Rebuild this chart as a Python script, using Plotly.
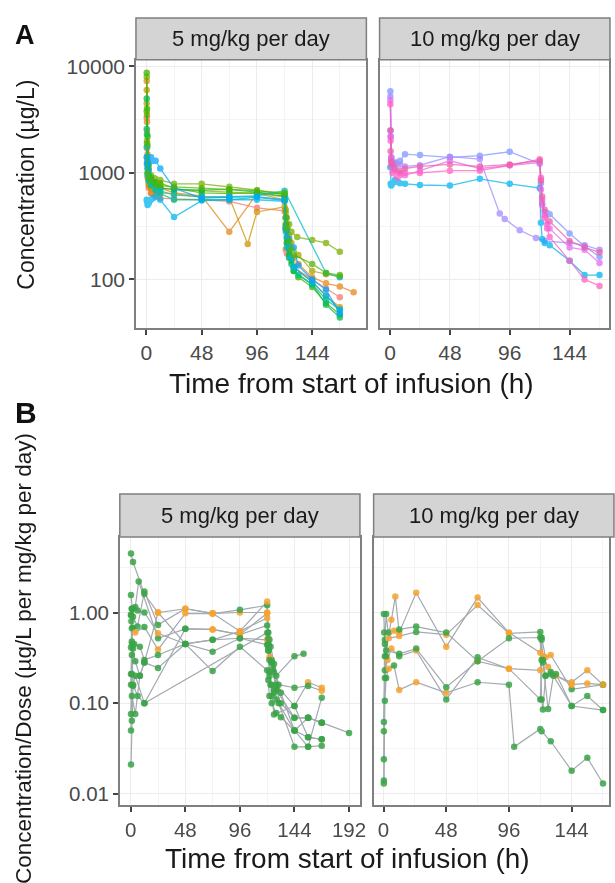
import plotly.graph_objects as go

W, H = 615, 883

# ---------------- Panel A: concentration (µg/L), 5 mg/kg per day ----------------
a5_t1 = [0.25, 0.5, 1, 2, 4, 8, 12, 24, 48, 72, 96, 120, 121, 122, 124, 128, 144, 156, 168]
a5_v1 = [3300, 1700, 900, 720, 640, 600, 580, 570, 560, 540, 470, 440, 190, 175, 160, 130, 100, 82, 68]
a5_t2 = [0.25, 0.5, 1, 2, 4, 6, 8, 12, 24, 48, 72, 96, 120, 121, 122, 124, 128, 132, 144, 156, 168, 180]
a5_v2 = [7300, 3000, 1500, 760, 650, 640, 660, 720, 650, 610, 280, 640, 560, 320, 250, 200, 160, 140, 105, 92, 86, 76]
a5_t3 = [0.25, 0.5, 1, 2, 4, 8, 12, 24, 48, 72, 88, 96, 120, 121, 122, 124, 128, 144, 156, 168]
a5_v3 = [6000, 2500, 1300, 800, 720, 680, 650, 640, 590, 590, 215, 430, 480, 300, 220, 170, 130, 95, 70, 55]
a5_t4 = [0.25, 0.5, 1, 2, 4, 8, 12, 24, 48, 72, 96, 120, 121, 122, 124, 126, 132, 144, 156, 168]
a5_v4 = [4500, 2000, 1100, 850, 800, 760, 720, 700, 680, 660, 640, 600, 420, 330, 260, 220, 170, 120, 112, 106]
a5_t5 = [0.25, 0.5, 1, 2, 4, 6, 8, 12, 24, 48, 72, 96, 120, 121, 122, 124, 126, 131, 144, 156, 168]
a5_v5 = [8000, 3500, 1800, 1100, 950, 900, 880, 860, 790, 790, 740, 690, 620, 450, 380, 330, 280, 250, 235, 220, 182]
a5_t6 = [0.25, 0.5, 1, 2, 4, 8, 12, 24, 48, 72, 96, 120, 121, 122, 124, 126, 128, 132, 144, 156, 168]
a5_v6 = [8700, 4000, 2200, 1200, 900, 820, 800, 720, 650, 640, 650, 640, 330, 240, 190, 150, 120, 105, 85, 60, 47]
a5_t7 = [0.25, 0.5, 1, 2, 4, 6, 8, 12, 24, 48, 72, 96, 120, 121, 122, 124, 126, 128, 144, 156, 168]
a5_v7 = [5000, 2300, 1200, 950, 850, 800, 750, 720, 700, 690, 700, 660, 600, 300, 220, 170, 140, 120, 90, 58, 44]
a5_t8 = [0.25, 0.5, 1, 2, 4, 8, 12, 24, 48, 72, 96, 120, 121, 122, 124, 128, 132, 144, 156, 168]
a5_v8 = [2600, 1400, 1000, 850, 760, 690, 640, 560, 560, 560, 590, 550, 280, 200, 160, 130, 110, 90, 65, 52]
a5_t9 = [0.25, 0.5, 1, 2, 4, 8, 12, 24, 48, 72, 96, 120, 156, 168]
a5_v9 = [1750, 1200, 950, 850, 800, 720, 680, 620, 600, 600, 610, 680, 115, 105]
a5_t10 = [0.25, 0.5, 1, 2, 4, 6, 8, 12, 24, 48, 72, 96, 120, 121, 122, 124, 126, 128, 144, 156, 168]
a5_v10 = [560, 540, 500, 520, 560, 580, 600, 560, 385, 550, 560, 560, 540, 300, 250, 200, 160, 130, 95, 70, 52]
a5_t11 = [0.25, 0.5, 1, 2, 4, 6, 8, 12, 24, 48, 72, 96, 120, 121, 122, 124, 128, 132, 144, 156, 168]
a5_v11 = [1400, 1250, 1100, 1050, 1400, 1300, 1300, 1100, 720, 580, 590, 600, 560, 380, 290, 240, 200, 135, 100, 80, 48]
a5_t12 = [0.25, 0.5, 1, 2, 4, 8, 12, 24, 48, 72, 96, 120, 121, 122, 124, 126, 128, 144, 156, 168]
a5_v12 = [3800, 1900, 1000, 900, 850, 780, 760, 740, 720, 700, 680, 650, 380, 300, 230, 190, 170, 140, 115, 110]
a5_colors = ["#F8766D", "#E7861B", "#CE9500", "#A8A400", "#7CAE00", "#39B600",
             "#00BB4E", "#00C08B", "#00BFC4", "#00B4EF", "#00A5FF", "#53B400"]

# ---------------- Panel A: 10 mg/kg per day ----------------
a10_t1 = [0.25, 0.5, 1, 2, 4, 6, 8, 12, 24, 48, 72, 96, 120, 121, 122, 124, 126, 128, 144, 156, 168]
a10_v1 = [5850, 2500, 1400, 1250, 1200, 1250, 1300, 1500, 1470, 1400, 1450, 1580, 1220, 800, 520, 430, 420, 410, 270, 205, 163]
a10_t2 = [0.25, 0.5, 1, 2, 4, 8, 12, 24, 48, 72, 88, 92, 104, 117, 124, 144, 156, 168]
a10_v2 = [5200, 2200, 1300, 1200, 1250, 1200, 1150, 1180, 1420, 1350, 415, 370, 290, 245, 230, 220, 210, 190]
a10_t3 = [0.25, 0.5, 1, 2, 4, 6, 8, 12, 24, 48, 72, 96, 120, 121, 122, 124, 128, 144, 156, 168]
a10_v3 = [1130, 790, 760, 800, 860, 820, 800, 790, 770, 760, 880, 790, 720, 340, 240, 220, 210, 150, 110, 110]
a10_t4 = [0.25, 0.5, 1, 2, 4, 8, 12, 24, 48, 72, 96, 120, 121, 122, 124, 126, 128, 144, 156, 168]
a10_v4 = [4800, 2200, 1400, 1100, 1050, 1000, 950, 1050, 1300, 1100, 1180, 1250, 700, 500, 400, 330, 300, 200, 190, 143]
a10_t5 = [0.25, 0.5, 1, 2, 4, 6, 8, 12, 24, 48, 72, 96, 120, 121, 122, 124, 126, 128, 144, 156, 168]
a10_v5 = [4400, 2000, 1200, 1000, 980, 900, 950, 1000, 1000, 1050, 1050, 1180, 1340, 900, 560, 380, 300, 250, 150, 100, 87]
a10_t6 = [0.25, 0.5, 1, 2, 4, 8, 12, 24, 48, 72, 96, 120, 121, 122, 124, 128, 144, 156, 168]
a10_v6 = [2500, 1600, 1300, 1200, 1100, 1050, 1100, 1150, 1200, 1150, 1200, 1300, 850, 600, 450, 350, 230, 200, 180]
a10_colors = ["#7F96FF", "#A58AFF", "#00B4F0", "#E76BF3", "#FF61C3", "#EC5FA8"]

# ---------------- Panel B: concentration/dose, 5 mg/kg per day (0 = green, 1 = orange) ----------------
b5_t1 = [0.25, 2, 12, 24, 48, 72, 96, 120, 121, 124, 128, 144, 156, 168]
b5_v1 = [4.46, 3.6, 1.6, 1.0, 1.1, 0.98, 1.0, 1.0, 0.44, 0.3, 0.16, 0.093, 0.17, 0.148]
b5_c1 = [0, 0, 0, 1, 1, 1, 1, 1, 0, 0, 0, 0, 1, 1]
b5_t2 = [0.25, 1, 4, 7, 24, 48, 72, 96, 120, 121, 122, 126, 132, 144, 156, 168]
b5_v2 = [0.94, 1.1, 1.15, 2.2, 0.52, 0.66, 0.65, 0.57, 0.98, 0.5, 0.32, 0.22, 0.13, 0.05, 0.042, 0.04]
b5_c2 = [0, 0, 0, 0, 0, 0, 1, 1, 1, 1, 1, 0, 0, 0, 0, 0]
b5_t3 = [0.25, 1, 2, 6, 12, 24, 48, 72, 96, 120, 121, 124, 128, 144, 156, 168]
b5_v3 = [0.41, 0.67, 1.1, 1.05, 1.0, 0.59, 0.45, 0.5, 0.62, 0.87, 0.38, 0.28, 0.14, 0.069, 0.069, 0.061]
b5_c3 = [0, 0, 0, 0, 0, 1, 0, 0, 1, 1, 0, 0, 0, 0, 0, 0]
b5_t4 = [0.25, 1, 2, 4, 12, 24, 48, 72, 96, 120, 121, 123, 126, 130, 144, 156, 168]
b5_v4 = [0.16, 0.48, 0.68, 0.6, 0.69, 0.39, 0.98, 0.97, 1.07, 1.2, 0.6, 0.42, 0.27, 0.16, 0.148, 0.155, 0.137]
b5_c4 = [0, 0, 0, 1, 0, 1, 1, 1, 0, 0, 0, 0, 0, 0, 0, 0, 1]
b5_t5 = [0.25, 1, 3, 8, 12, 24, 48, 72, 96, 120, 121, 122, 125, 128, 144, 152]
b5_v5 = [0.076, 0.21, 0.45, 0.42, 0.3, 0.34, 0.45, 0.37, 0.52, 0.5, 0.44, 0.3, 0.24, 0.2, 0.33, 0.35]
b5_c5 = [0, 0, 0, 0, 0, 0, 0, 0, 0, 1, 0, 0, 0, 0, 0, 0]
b5_t6 = [0.25, 1, 2, 4, 8, 12, 24, 48, 72, 96, 120, 121, 122, 124, 128, 132, 144, 156, 168]
b5_v6 = [0.05, 0.34, 0.4, 0.29, 0.2, 0.28, 0.245, 0.45, 0.226, 0.42, 0.23, 0.18, 0.12, 0.1, 0.078, 0.07, 0.05, 0.033, 0.034]
b5_c6 = [0] * 19
b5_t7 = [0.25, 1, 2, 4, 12, 48, 72, 96, 120, 121, 123, 126, 130, 144, 156, 168]
b5_v7 = [0.021, 0.064, 0.155, 0.2, 0.1, 0.66, 0.65, 0.57, 0.72, 0.42, 0.16, 0.14, 0.1, 0.033, 0.033, 0.115]
b5_c7 = [0, 0, 0, 0, 0, 0, 1, 1, 0, 0, 0, 0, 0, 0, 0, 0]
b5_t8 = [0.25, 1, 2, 6, 12, 24, 48, 72, 96, 120, 121, 122, 124, 128, 132, 144, 156, 168, 192]
b5_v8 = [1.56, 1.1, 0.9, 0.7, 1.7, 0.73, 1.1, 0.98, 0.62, 1.32, 0.52, 0.5, 0.28, 0.14, 0.1, 0.069, 0.069, 0.061, 0.047]
b5_c8 = [0, 0, 0, 0, 0, 0, 1, 1, 1, 1, 0, 0, 0, 0, 0, 0, 0, 0, 0]
b5_t9 = [0.25, 1, 4, 8, 12, 24, 48, 72, 96, 120, 121, 122, 124, 126, 144, 156, 168]
b5_v9 = [0.21, 0.12, 0.076, 0.2, 0.28, 1.0, 0.45, 0.5, 0.52, 0.44, 0.38, 0.22, 0.12, 0.075, 0.093, 0.042, 0.04]
b5_c9 = [0, 0, 0, 0, 0, 1, 0, 0, 0, 0, 0, 0, 0, 0, 0, 0, 0]
b5_t10 = [0.25, 0.5, 1, 2, 6, 12, 120, 121, 122, 124, 126, 128, 144, 156, 168]
b5_v10 = [0.94, 0.8, 0.45, 0.16, 0.12, 0.1, 0.6, 0.44, 0.2, 0.16, 0.13, 0.11, 0.05, 0.069, 0.061]
b5_c10 = [0] * 15

# ---------------- Panel B: 10 mg/kg per day ----------------
b10_t1 = [0.25, 1, 6, 9, 12, 25, 48, 72, 96, 120, 122, 126, 132, 144, 156, 168]
b10_v1 = [0.014, 0.33, 0.83, 1.5, 0.6, 1.65, 0.42, 1.46, 0.6, 0.36, 0.33, 0.25, 0.2, 0.17, 0.23, 0.16]
b10_c1 = [0, 0, 1, 1, 1, 1, 1, 1, 1, 1, 1, 1, 1, 1, 1, 0]
b10_t2 = [0.25, 1, 2, 4, 12, 25, 48, 72, 96, 120, 121, 124, 128, 144, 168]
b10_v2 = [0.049, 0.5, 0.96, 0.52, 0.55, 0.61, 0.57, 1.21, 0.59, 0.61, 0.53, 0.32, 0.34, 0.142, 0.16]
b10_c2 = [0, 0, 0, 1, 1, 0, 1, 1, 1, 0, 0, 1, 1, 0, 0]
b10_t3 = [0.25, 1, 3, 6, 12, 25, 48, 72, 96, 120, 121, 122, 126, 130, 144, 156, 168]
b10_v3 = [0.062, 0.23, 0.3, 0.4, 0.33, 0.38, 0.11, 0.32, 0.24, 0.11, 0.3, 0.28, 0.086, 0.2, 0.093, 0.12, 0.084]
b10_c3 = [0, 0, 1, 1, 0, 1, 0, 0, 1, 0, 0, 0, 0, 0, 0, 0, 0]
b10_t4 = [0.25, 1, 2, 4, 8, 12, 25, 48, 72, 96, 100, 120, 121, 128, 144, 156, 168]
b10_v4 = [0.013, 0.106, 0.19, 0.24, 0.26, 0.14, 0.17, 0.13, 0.17, 0.16, 0.033, 0.052, 0.049, 0.038, 0.018, 0.025, 0.013]
b10_c4 = [0, 0, 0, 1, 0, 1, 1, 1, 0, 0, 0, 0, 0, 0, 0, 0, 0]
b10_t5 = [0.25, 1, 2, 4, 8, 12, 25, 48, 72, 96, 120, 121, 122, 124, 128, 144, 156, 168]
b10_v5 = [0.024, 0.19, 0.33, 0.6, 0.63, 0.65, 0.7, 0.6, 0.29, 0.24, 0.23, 0.5, 0.3, 0.2, 0.22, 0.16, 0.165, 0.16]
b10_c5 = [0, 0, 0, 0, 1, 0, 0, 0, 1, 1, 1, 0, 0, 0, 0, 1, 1, 1]
b10_t6 = [0.25, 0.5, 1, 2, 12, 25, 48, 72, 96, 120, 121, 122, 124, 128, 132, 144, 168]
b10_v6 = [0.96, 0.6, 0.45, 0.38, 0.35, 0.4, 0.15, 0.29, 0.52, 0.53, 0.11, 0.085, 0.2, 0.21, 0.21, 0.093, 0.084]
b10_c6 = [0] * 17

strip_labels = ["5 mg/kg per day", "10 mg/kg per day"]
x_title = "Time from start of infusion (h)"
ya_title = "Concentration (µg/L)"
yb_title = "Concentration/Dose (µg/L per mg/kg per day)"
xticks_a = [0, 48, 96, 144]
xticks_b = [0, 48, 96, 144, 192]
yticks_a = [100, 1000, 10000]
yticks_a_text = ["100", "1000", "10000"]
yticks_b = [0.01, 0.1, 1]
yticks_b_text = ["0.01", "0.10", "1.00"]

GREEN = "#3AA447"
ORANGE = "#F6A331"
LINEGREY = "#A3AAB1"
FONT = "Liberation Sans, Arial, sans-serif"


def px(x):
    return x / W


def py(y):
    return 1 - y / H


fig = go.Figure()

a_left = [(a5_t1, a5_v1), (a5_t2, a5_v2), (a5_t3, a5_v3), (a5_t4, a5_v4), (a5_t5, a5_v5),
          (a5_t6, a5_v6), (a5_t7, a5_v7), (a5_t8, a5_v8), (a5_t9, a5_v9), (a5_t10, a5_v10),
          (a5_t11, a5_v11), (a5_t12, a5_v12)]
a_right = [(a10_t1, a10_v1), (a10_t2, a10_v2), (a10_t3, a10_v3), (a10_t4, a10_v4),
           (a10_t5, a10_v5), (a10_t6, a10_v6)]

for (t, v), col in zip(a_left, a5_colors):
    fig.add_trace(go.Scatter(x=t, y=v, mode="lines+markers", xaxis="x", yaxis="y",
                             line=dict(color=col, width=1.3), marker=dict(color=col, size=6.5),
                             opacity=0.75, showlegend=False, hoverinfo="skip"))
for (t, v), col in zip(a_right, a10_colors):
    fig.add_trace(go.Scatter(x=t, y=v, mode="lines+markers", xaxis="x2", yaxis="y2",
                             line=dict(color=col, width=1.3), marker=dict(color=col, size=6.5),
                             opacity=0.75, showlegend=False, hoverinfo="skip"))

b_left = [(b5_t1, b5_v1, b5_c1), (b5_t2, b5_v2, b5_c2), (b5_t3, b5_v3, b5_c3), (b5_t4, b5_v4, b5_c4),
          (b5_t5, b5_v5, b5_c5), (b5_t6, b5_v6, b5_c6), (b5_t7, b5_v7, b5_c7), (b5_t8, b5_v8, b5_c8),
          (b5_t9, b5_v9, b5_c9), (b5_t10, b5_v10, b5_c10)]
b_right = [(b10_t1, b10_v1, b10_c1), (b10_t2, b10_v2, b10_c2), (b10_t3, b10_v3, b10_c3),
           (b10_t4, b10_v4, b10_c4), (b10_t5, b10_v5, b10_c5), (b10_t6, b10_v6, b10_c6)]

for group, xa, ya in [(b_left, "x3", "y3"), (b_right, "x4", "y4")]:
    for t, v, c in group:
        fig.add_trace(go.Scatter(x=t, y=v, mode="lines", xaxis=xa, yaxis=ya,
                                 line=dict(color=LINEGREY, width=1.2), showlegend=False,
                                 hoverinfo="skip"))
    for t, v, c in group:
        fig.add_trace(go.Scatter(x=t, y=v, mode="markers", xaxis=xa, yaxis=ya,
                                 marker=dict(color=[ORANGE if k else GREEN for k in c], size=6.5),
                                 opacity=0.85, showlegend=False, hoverinfo="skip"))

tickfont_a = dict(family=FONT, size=21, color="#4a4a4a")
tickfont_b = dict(family=FONT, size=20.5, color="#4a4a4a")
common = dict(showline=True, mirror=True, linecolor="#7f7f7f", linewidth=1.5,
              ticks="outside", ticklen=5, tickwidth=1.5, tickcolor="#444",
              showgrid=True, gridcolor="#ECECEC", gridwidth=1, zeroline=False,
              tickmode="array")
minor_x = dict(tickvals=[24, 72, 120, 168], showgrid=True, gridcolor="#F4F4F4", gridwidth=0.8)
minor_ya = dict(tickvals=[316.23, 3162.3], showgrid=True, gridcolor="#F4F4F4", gridwidth=0.8)
minor_yb = dict(tickvals=[0.03162, 0.3162, 3.162], showgrid=True, gridcolor="#F4F4F4", gridwidth=0.8)

A_top, A_bot = 55, 325
B_top, B_bot = 535, 805

fig.update_layout(
    width=W, height=H, margin=dict(l=0, r=0, t=0, b=0),
    paper_bgcolor="white", plot_bgcolor="white",
    font=dict(family=FONT, color="#222"),
    xaxis=dict(common, domain=[px(137.3), px(370)], range=[-9.1, 191.1], anchor="y",
               tickvals=xticks_a, tickfont=tickfont_a, minor=minor_x),
    yaxis=dict(common, type="log", domain=[py(A_bot), py(A_top)], range=[1.543, 4.0625], anchor="x",
               tickvals=yticks_a, ticktext=yticks_a_text, tickfont=tickfont_a, minor=minor_ya),
    xaxis2=dict(common, domain=[px(383.3), 1.0], range=[-8.4, 175.6], anchor="y2",
                tickvals=xticks_a, tickfont=tickfont_a, minor=minor_x),
    yaxis2=dict(common, type="log", domain=[py(A_bot), py(A_top)], range=[1.543, 4.0625], anchor="x2",
                tickvals=yticks_a, showticklabels=False, ticks="", minor=minor_ya),
    xaxis3=dict(common, domain=[px(121), px(363.5)], range=[-9.6, 201.6], anchor="y3",
                tickvals=xticks_b, tickfont=tickfont_b, minor=minor_x),
    yaxis3=dict(common, type="log", domain=[py(B_bot), py(B_top)], range=[-2.128, 0.833], anchor="x3",
                tickvals=yticks_b, ticktext=yticks_b_text, tickfont=tickfont_b, minor=minor_yb),
    xaxis4=dict(common, domain=[px(377.3), 1.0], range=[-7.6, 172.6], anchor="y4",
                tickvals=xticks_a, tickfont=tickfont_b, minor=minor_x),
    yaxis4=dict(common, type="log", domain=[py(B_bot), py(B_top)], range=[-2.128, 0.833], anchor="x4",
                tickvals=yticks_b, showticklabels=False, ticks="", minor=minor_yb),
)

# facet strips
shapes = []
annotations = []
strip_font = dict(family=FONT, size=22, color="#1a1a1a")
for (x0, x1), (s0, s1), lab in [((137.3, 370), (13, A_top), strip_labels[0]),
                                 ((383.3, 616), (13, A_top), strip_labels[1]),
                                 ((121, 363.5), (491.7, B_top), strip_labels[0]),
                                 ((377.3, 620), (491.7, B_top), strip_labels[1])]:
    shapes.append(dict(type="rect", xref="paper", yref="paper", x0=px(x0), x1=px(x1),
                       y0=py(s1), y1=py(s0), fillcolor="#D4D4D4",
                       line=dict(color="#7f7f7f", width=1.5), layer="above"))
    annotations.append(dict(text=lab, x=px((x0 + x1) / 2), y=py((s0 + s1) / 2),
                            xref="paper", yref="paper", showarrow=False, font=strip_font,
                            xanchor="center", yanchor="middle"))

title_font = dict(family=FONT, size=28, color="#1a1a1a")
annotations += [
    dict(text=x_title, x=px(355), y=py(381), xref="paper", yref="paper", showarrow=False,
         font=title_font, xanchor="center", yanchor="middle"),
    dict(text=x_title, x=px(351), y=py(858), xref="paper", yref="paper", showarrow=False,
         font=title_font, xanchor="center", yanchor="middle"),
    dict(text=ya_title, x=px(26), y=py(181), xref="paper", yref="paper", showarrow=False,
         textangle=-90, font=dict(title_font, size=23), xanchor="center", yanchor="middle"),
    dict(text=yb_title, x=px(24), y=py(657), xref="paper", yref="paper", showarrow=False,
         textangle=-90, font=dict(title_font, size=22.5), xanchor="center", yanchor="middle"),
    dict(text="<b>A</b>", x=px(25), y=py(30), xref="paper", yref="paper", showarrow=False,
         font=dict(family=FONT, size=27, color="#111"), xanchor="center", yanchor="middle"),
    dict(text="<b>B</b>", x=px(26), y=py(410), xref="paper", yref="paper", showarrow=False,
         font=dict(family=FONT, size=30, color="#111"), xanchor="center", yanchor="middle"),
]
fig.update_layout(shapes=shapes, annotations=annotations)

fig.write_html("out.html")
